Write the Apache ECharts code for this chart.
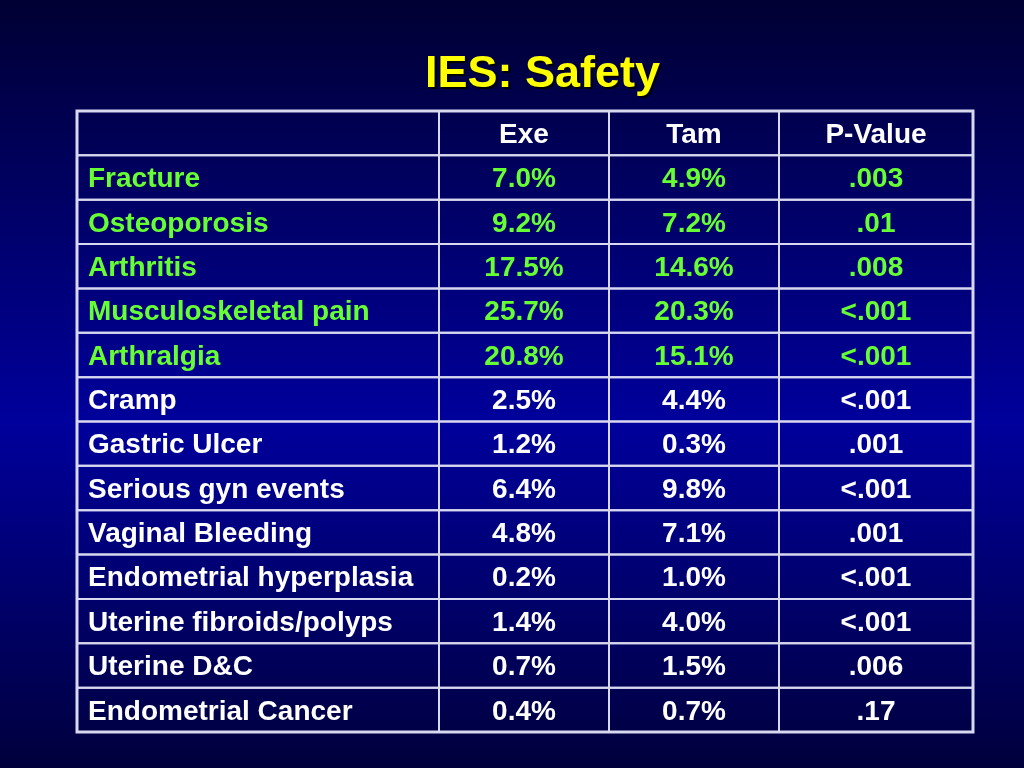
<!DOCTYPE html>
<html>
<head>
<meta charset="utf-8">
<title>IES: Safety</title>
<script src="https://cdn.jsdelivr.net/npm/echarts@6/dist/echarts.min.js"></script>
<style>
  html, body { margin: 0; padding: 0; background: #000040; }
  #chart_1 { width: 1024px; height: 768px; }
</style>
</head>
<body>
<div id="chart_1"></div>
<script>
// table data
var columns = ['', 'Exe', 'Tam', 'P-Value'];
var events = ['Fracture', 'Osteoporosis', 'Arthritis', 'Musculoskeletal pain', 'Arthralgia',
  'Cramp', 'Gastric Ulcer', 'Serious gyn events', 'Vaginal Bleeding',
  'Endometrial hyperplasia', 'Uterine fibroids/polyps', 'Uterine D&C', 'Endometrial Cancer'];
var exe = [7.0, 9.2, 17.5, 25.7, 20.8, 2.5, 1.2, 6.4, 4.8, 0.2, 1.4, 0.7, 0.4];
var tam = [4.9, 7.2, 14.6, 20.3, 15.1, 4.4, 0.3, 9.8, 7.1, 1.0, 4.0, 1.5, 0.7];
var pValues = ['.003', '.01', '.008', '<.001', '<.001', '<.001', '.001', '<.001', '.001',
  '<.001', '<.001', '.006', '.17'];
var highlighted = 5; // first rows in green

(function () {
  var myChart = echarts.init(document.getElementById('chart_1'));
  var rows = [''].concat(events);
  var lineColor = '#d8d8f0';
  var green = '#66ff33';
  var font = '"Liberation Sans", Arial, sans-serif';

  // column layout: left edge and width of each column, in px
  var colLeft = [77, 439, 609, 779];
  var colWidth = [362, 170, 170, 194];
  var tableTop = 111, tableHeight = 621;

  // text of every column, header first
  var colText = [
    [''].concat(events),
    ['Exe'].concat(exe.map(function (v) { return v.toFixed(1) + '%'; })),
    ['Tam'].concat(tam.map(function (v) { return v.toFixed(1) + '%'; })),
    ['P-Value'].concat(pValues)
  ];

  function cell(align) {
    return function (params, api) {
      var p = api.coord([api.value(0), api.value(1)]);
      var s = api.size([1, 1]);
      var g = api.value(3) === 1;
      return {
        type: 'group',
        children: [{
          type: 'rect',
          shape: { x: p[0] - s[0] / 2, y: p[1] - s[1] / 2, width: s[0], height: s[1] },
          style: { fill: 'transparent', stroke: lineColor, lineWidth: 2 }
        }, {
          type: 'text',
          x: align === 'left' ? p[0] - s[0] / 2 + 11 : p[0],
          y: p[1] + 2,
          style: {
            text: api.value(2),
            fill: g ? green : '#ffffff',
            font: 'bold 28px ' + font,
            align: align,
            verticalAlign: 'middle',
            shadowColor: g ? 'rgba(0,0,0,0.9)' : 'rgba(0,0,0,0.35)',
            shadowOffsetX: 2,
            shadowOffsetY: 2,
            shadowBlur: 1
          }
        }]
      };
    };
  }

  var grids = [], xAxes = [], yAxes = [], series = [];
  columns.forEach(function (c, i) {
    grids.push({ left: colLeft[i], top: tableTop, width: colWidth[i], height: tableHeight });
    xAxes.push({ type: 'category', gridIndex: i, data: [c], show: false });
    yAxes.push({ type: 'category', gridIndex: i, data: rows, inverse: true, show: false });
    series.push({
      type: 'custom', xAxisIndex: i, yAxisIndex: i, silent: true,
      renderItem: cell(i === 0 ? 'left' : 'center'),
      data: colText[i].map(function (t, r) {
        return [0, r, t, r > 0 && r <= highlighted ? 1 : 0];
      })
    });
  });
  // outer frame
  grids.push({ left: 77, top: tableTop, width: 896, height: tableHeight, show: true,
    borderColor: lineColor, borderWidth: 3, backgroundColor: 'transparent' });
  xAxes.push({ type: 'value', gridIndex: columns.length, show: false });
  yAxes.push({ type: 'value', gridIndex: columns.length, show: false });

  option = {
    backgroundColor: {
      type: 'linear', x: 0, y: 0, x2: 0, y2: 1,
      colorStops: [
        { offset: 0, color: '#000033' },
        { offset: 0.55, color: '#00009c' },
        { offset: 1, color: '#00003c' }
      ]
    },
    title: {
      text: 'IES: Safety',
      left: 420,
      top: 47,
      textStyle: {
        color: '#ffff00',
        fontFamily: font,
        fontWeight: 'bold',
        fontSize: 45,
        textShadowColor: 'rgba(0,0,0,0.9)',
        textShadowOffsetX: 2,
        textShadowOffsetY: 2,
        textShadowBlur: 1
      }
    },
    grid: grids,
    xAxis: xAxes,
    yAxis: yAxes,
    series: series
  };

  if (option && typeof option === 'object')
    myChart.setOption(option);
  window.addEventListener('resize', function () {
    myChart.resize();
  });
})();
</script>
</body>
</html>
